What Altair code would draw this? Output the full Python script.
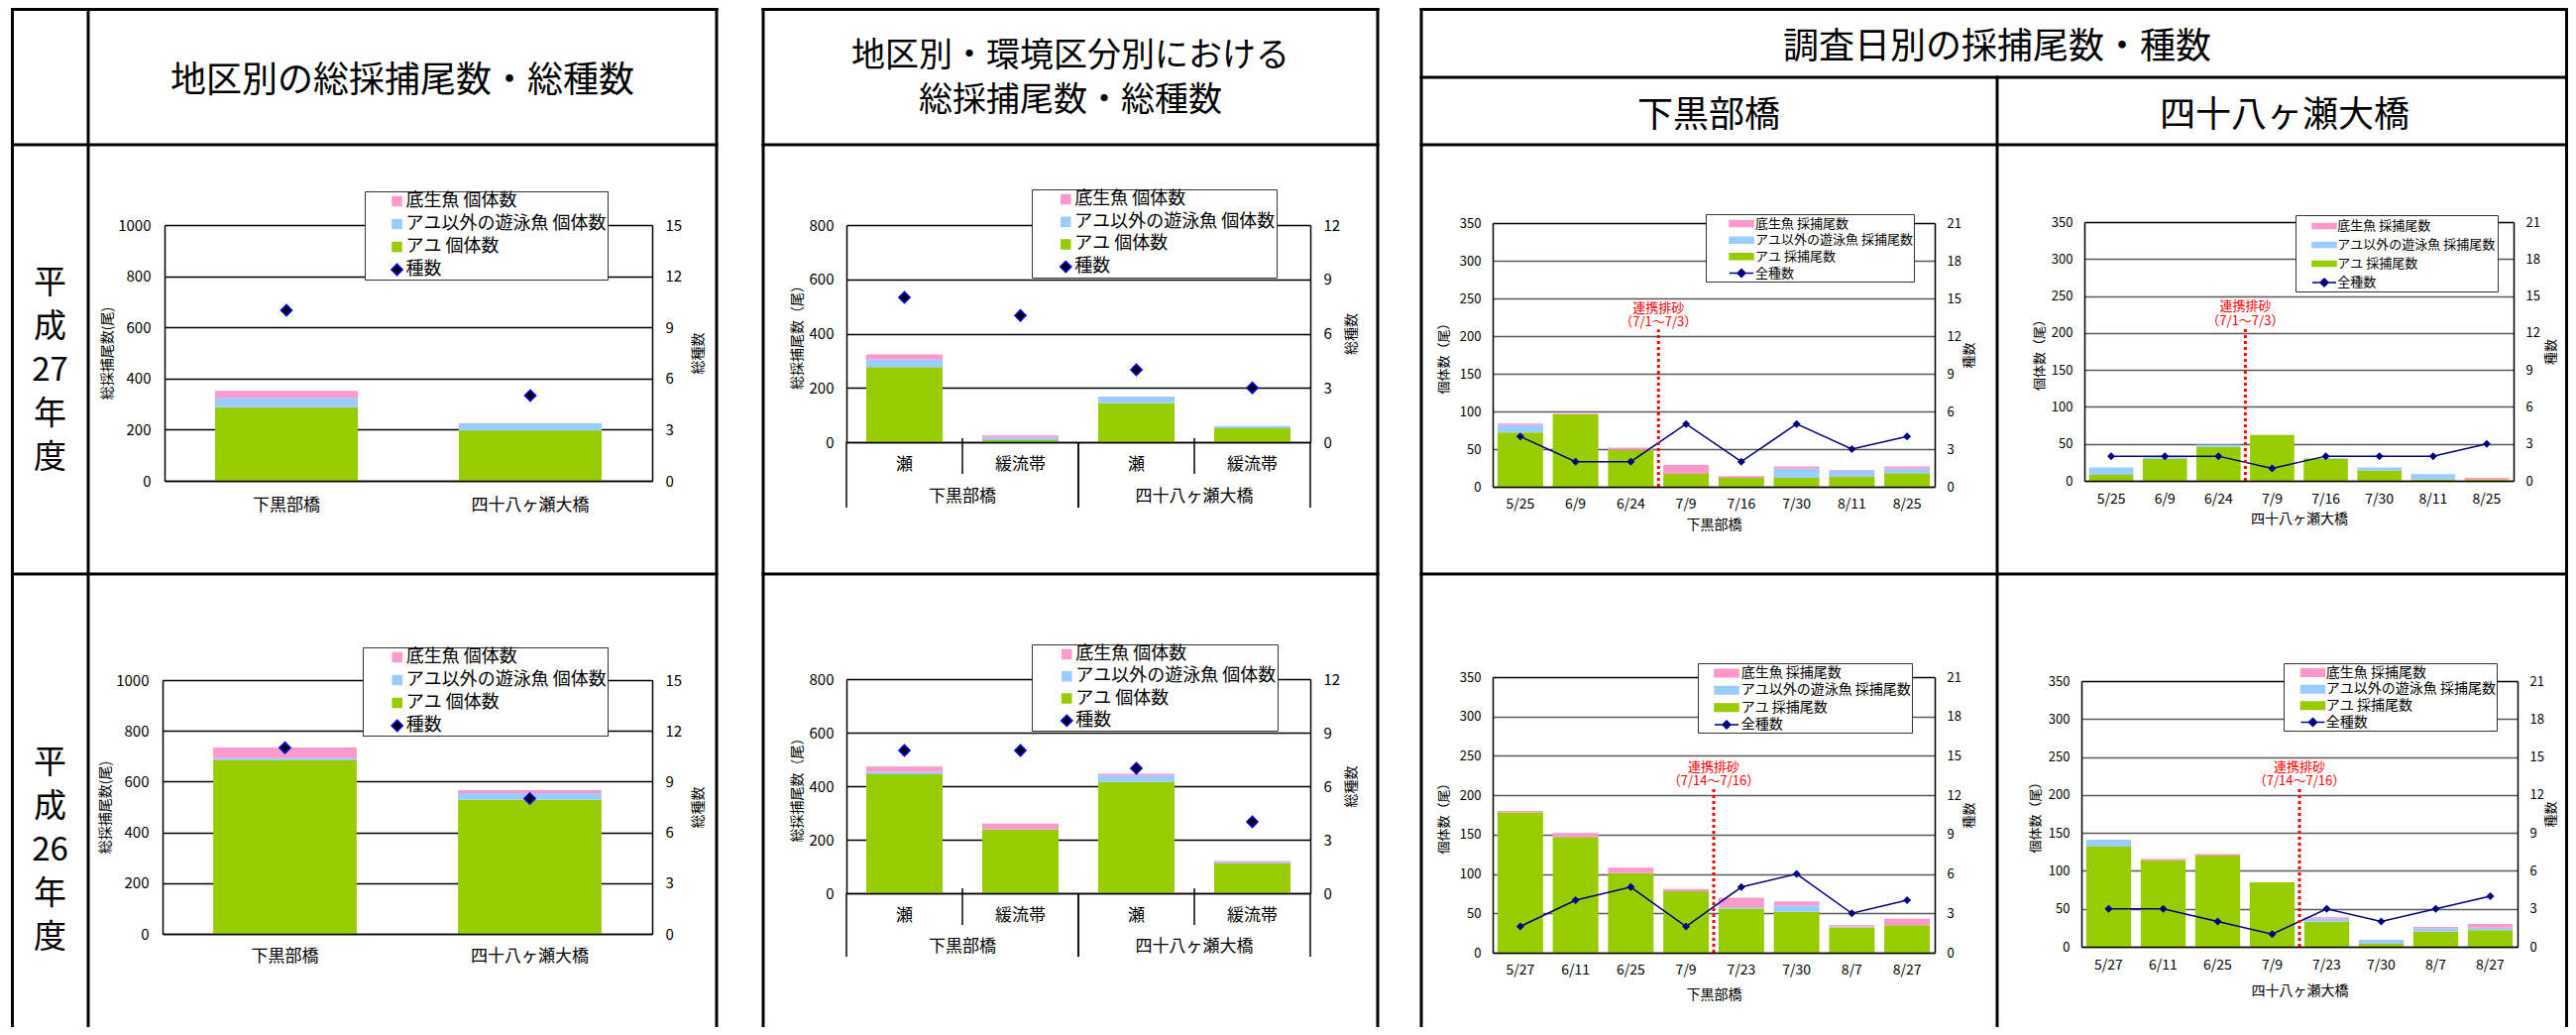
import altair as alt
import pandas as pd

# ---------------- data ----------------
SITES = ["下黒部橋", "四十八ヶ瀬大橋"]
HABITATS = ["瀬", "緩流帯"]
SER_AB = ["底生魚 個体数", "アユ以外の遊泳魚 個体数", "アユ 個体数", "種数"]
SER_C = ["底生魚 採捕尾数", "アユ以外の遊泳魚 採捕尾数", "アユ 採捕尾数", "全種数"]

# 地区別 (H27 / H26)
h27_site_ayu = [288, 197]
h27_site_other = [37, 28]
h27_site_benthic = [27, 0]
h27_site_species = [10, 5]
h26_site_ayu = [684, 528]
h26_site_other = [8, 27]
h26_site_benthic = [42, 11]
h26_site_species = [11, 8]

# 地区別・環境区分別 (下黒部橋 瀬, 下黒部橋 緩流帯, 四十八ヶ瀬大橋 瀬, 四十八ヶ瀬大橋 緩流帯)
h27_hab_ayu = [277, 7, 143, 51]
h27_hab_other = [27, 10, 25, 8]
h27_hab_benthic = [19, 8, 0, 0]
h27_hab_species = [8, 7, 4, 3]
h26_hab_ayu = [444, 237, 416, 111]
h26_hab_other = [10, 1, 24, 5]
h26_hab_benthic = [19, 22, 6, 4]
h26_hab_species = [8, 8, 7, 4]

# 調査日別
h27_dates = ["5/25", "6/9", "6/24", "7/9", "7/16", "7/30", "8/11", "8/25"]
h27_shimo_ayu = [72, 96, 49, 17, 12, 12, 13, 18]
h27_shimo_other = [10, 0, 0, 0, 0, 12, 8, 6]
h27_shimo_benthic = [2, 1, 3, 12, 2, 3, 1, 3]
h27_shimo_species = [4, 2, 2, 5, 2, 5, 3, 4]
h27_yoso_ayu = [8, 30, 46, 62, 30, 14, 2, 2]
h27_yoso_other = [10, 2, 3, 0, 1, 4, 7, 0]
h27_yoso_benthic = [0, 0, 0, 0, 0, 0, 0, 2]
h27_yoso_species = [2, 2, 2, 1, 2, 2, 2, 3]

h26_dates = ["5/27", "6/11", "6/25", "7/9", "7/23", "7/30", "8/7", "8/27"]
h26_shimo_ayu = [178, 147, 101, 78, 56, 52, 32, 35]
h26_shimo_other = [0, 0, 0, 0, 2, 8, 1, 0]
h26_shimo_benthic = [2, 5, 7, 3, 12, 5, 2, 8]
h26_shimo_species = [2, 4, 5, 2, 5, 6, 3, 4]
h26_yoso_ayu = [132, 114, 120, 85, 33, 4, 20, 22]
h26_yoso_other = [9, 0, 0, 0, 4, 5, 4, 3]
h26_yoso_benthic = [0, 2, 2, 0, 2, 0, 2, 5]
h26_yoso_species = [3, 3, 2, 1, 3, 2, 3, 4]

# 連携排砂
FLUSH_TITLE = "連携排砂"
h27_flush_label = "（7/1～7/3）"
h27_flush_next = "7/9"
h26_flush_label = "（7/14～7/16）"
h26_flush_next = "7/23"

# ---------------- layout / style ----------------
W, H = 2583, 1028
FONT = "Noto Sans CJK JP"
GREEN, BLUE, PINK, NAVY = "#99CC00", "#99CCFF", "#FF99CC", "#000080"
HAB_KEYS = [s + "|" + h for s in SITES for h in HABITATS]


def bar_frame(cats, ayu, other, benthic, names):
    rows = []
    for i, c in enumerate(cats):
        rows.append(dict(cat=c, series=names[2], value=ayu[i], ord=0))
        rows.append(dict(cat=c, series=names[1], value=other[i], ord=1))
        rows.append(dict(cat=c, series=names[0], value=benthic[i], ord=2))
    return pd.DataFrame(rows)


def species_frame(cats, species, name):
    return pd.DataFrame({"cat": cats, "series": [name] * len(cats), "sp": species})


def make_panel(cats, ayu, other, benthic, species, names, g, kind):
    x0, x1, yb, yt = g["x0"], g["x1"], g["yb"], g["yt"]
    pi = g["pi"]
    is_date = kind == "date"
    xscale = alt.Scale(domain=cats, range=[x0, x1], paddingInner=pi, paddingOuter=pi / 2)
    xa = dict(orient="bottom", offset=yb - H, domainColor="black", domainWidth=1.5,
              ticks=False, tickSize=0, labelAngle=0, labelOverlap=False,
              labelFontSize=g["xfs"], labelPadding=g["xlp"], labelColor="black",
              grid=False, zindex=1)
    if kind == "hab":
        xa["labelExpr"] = "split(datum.label, '|')[1]"
    if is_date:
        xa.update(titleX=(x0 + x1) / 2, titleY=g["xty"], titleFontSize=14,
                  titleFontWeight="normal", titleColor="black",
                  titleBaseline="middle", titleAlign="center")
        x_enc = alt.X("cat:N", scale=xscale, axis=alt.Axis(**xa), title=g["xtitle"])
    else:
        x_enc = alt.X("cat:N", scale=xscale, axis=alt.Axis(**xa), title=None)

    if is_date:
        gcol = {"condition": {"test": "datum.value >= %d" % g["ymax"], "value": "black"},
                "value": "#595959"}
    else:
        gcol = "black"
    yl_axis = alt.Axis(orient="left", offset=-x0, values=list(range(0, g["ymax"] + 1, g["ystep"])),
                       format="d", grid=True, gridColor=gcol, gridWidth=1.3,
                       domainColor="black", domainWidth=1.5,
                       ticks=False, tickSize=0, labelFontSize=g["yfs"], labelPadding=g["ylp"],
                       labelColor="black", labelOverlap=False,
                       titleFontSize=g["tfs"], titleFontWeight="normal", titleColor="black",
                       titleAngle=270, titleX=g["ltx"], titleY=(yb + yt) / 2,
                       titleBaseline="middle", titleAlign="center")
    y_left = alt.Y("value:Q", stack="zero", title=g["ltitle"],
                   scale=alt.Scale(domain=[0, g["ymax"]], range=[yb, yt], nice=False), axis=yl_axis)
    yr_axis = alt.Axis(orient="right", offset=x1 - W, values=list(range(0, g["rmax"] + 1, g["rstep"])),
                       format="d", grid=False, domainColor="black", domainWidth=1.5,
                       ticks=False, tickSize=0,
                       labelFontSize=g["yfs"], labelPadding=g["rlp"], labelColor="black",
                       labelOverlap=False,
                       titleFontSize=g["tfs"], titleFontWeight="normal", titleColor="black",
                       titleAngle=270, titleX=g["rtx"], titleY=(yb + yt) / 2,
                       titleBaseline="middle", titleAlign="center", zindex=1)
    y_right = alt.Y("sp:Q", title=g["rtitle"],
                    scale=alt.Scale(domain=[0, g["rmax"]], range=[yb, yt], nice=False), axis=yr_axis)

    lg = g["legend"]
    legend = alt.Legend(orient="none", legendX=lg["x"], legendY=lg["y"], title=None,
                        direction="vertical", padding=lg["p"], rowPadding=lg["rp"],
                        symbolOffset=lg["so"], labelOffset=lg["lo"], labelFontSize=lg["fs"],
                        labelColor="black", labelLimit=600,
                        labelExpr="datum.label + '" + "\u2002" * lg["trail"] + "'",
                        symbolSize=lg["ss"], symbolStrokeWidth=1.5, symbolOpacity=1,
                        strokeColor="#333333", fillColor="white")
    if is_date:
        rect = "M-1.5,-%.3fH1.5V%.3fH-1.5Z" % (lg["rh"], lg["rh"])
        shapes = [rect, rect, rect, "M-1.5,0H1.5M0,-0.5L0.5,0L0,0.5L-0.5,0Z"]
        fills = [PINK, BLUE, GREEN, NAVY]
        strokes = [PINK, BLUE, GREEN, NAVY]
        psize, pstroke = lg["ss"], 0
    else:
        sq = "M-1,-1H1V1H-1Z"
        shapes = [sq, sq, sq, "M0,-1.25L1.25,0L0,1.25L-1.25,0Z"]
        fills = [PINK, BLUE, GREEN, "#000000"]
        strokes = [PINK, BLUE, GREEN, "#0000FF"]
        psize, pstroke = lg["ss"], 1.5
    cscale = alt.Scale(domain=names, range=fills)
    sscale = alt.Scale(domain=names, range=strokes)
    shscale = alt.Scale(domain=names, range=shapes)

    bars = alt.Chart(bar_frame(cats, ayu, other, benthic, names)).mark_bar().encode(
        x=x_enc, y=y_left,
        color=alt.Color("series:N", scale=cscale, legend=legend),
        order=alt.Order("ord:Q"))
    sp_df = species_frame(cats, species, names[3])
    pts = alt.Chart(sp_df).mark_point(filled=True, opacity=1, size=psize, strokeWidth=pstroke).encode(
        x=x_enc, y=y_right,
        color=alt.Color("series:N", scale=cscale, legend=legend),
        stroke=alt.Stroke("series:N", scale=sscale, legend=legend),
        shape=alt.Shape("series:N", scale=shscale, legend=legend))
    if is_date:
        line = alt.Chart(sp_df).mark_line(color=NAVY, strokeWidth=1.5).encode(x=x_enc, y=y_right)
        species_layer = alt.layer(line, pts)
    else:
        species_layer = pts
    return alt.layer(bars, species_layer).resolve_scale(y="independent")


def flush_layer(cats, g, nxt, label):
    f = g["flush"]
    n = len(cats)
    step = (g["x1"] - g["x0"]) / n
    off = -g["pi"] * step / 2
    xs = alt.Scale(domain=cats, range=[g["x0"], g["x1"]], paddingInner=g["pi"], paddingOuter=g["pi"] / 2)
    ys = alt.Scale(domain=[0, g["ymax"]], range=[g["yb"], g["yt"]], nice=False)
    df = pd.DataFrame({"cat": [nxt], "base": [0], "top": [f["top"]], "t1": [FLUSH_TITLE], "t2": [label]})
    ex = alt.X("cat:N", scale=xs, axis=None, bandPosition=0)
    rule = alt.Chart(df).mark_rule(color="#FF0000", strokeWidth=3, strokeDash=[3, 3], xOffset=off).encode(
        x=ex, y=alt.Y("base:Q", scale=ys, axis=None), y2="top:Q")
    t1 = alt.Chart(df).mark_text(color="#FF0000", fontSize=13, baseline="middle", align="center",
                                 xOffset=off, dy=f["dy1"]).encode(
        x=ex, y=alt.Y("top:Q", scale=ys, axis=None), text="t1:N")
    t2 = alt.Chart(df).mark_text(color="#FF0000", fontSize=13, baseline="middle", align="center",
                                 xOffset=off, dy=f["dy2"]).encode(
        x=ex, y=alt.Y("top:Q", scale=ys, axis=None), text="t2:N")
    return alt.layer(rule, t1, t2)


def site_axis_layer(g):
    ss = alt.Scale(domain=SITES, range=[g["x0"], g["x1"]], paddingInner=0, paddingOuter=0)
    sdf = pd.DataFrame({"site": SITES})
    lbl = alt.Chart(sdf).mark_text(fontSize=17, baseline="middle", align="center", color="black").encode(
        x=alt.X("site:N", scale=ss, axis=None, bandPosition=0.5), y=alt.value(g["l2y"]), text="site:N")
    inner = alt.Chart(sdf).mark_rule(color="black", strokeWidth=1.5).encode(
        x=alt.X("site:N", scale=ss, axis=None, bandPosition=0.5),
        y=alt.value(g["inner"][0]), y2=alt.value(g["inner"][1]))
    outer0 = alt.Chart(sdf).mark_rule(color="black", strokeWidth=1.5).encode(
        x=alt.X("site:N", scale=ss, axis=None, bandPosition=0),
        y=alt.value(g["outer"][0]), y2=alt.value(g["outer"][1]))
    outer1 = alt.Chart(sdf).mark_rule(color="black", strokeWidth=1.5).encode(
        x=alt.X("site:N", scale=ss, axis=None, bandPosition=1),
        y=alt.value(g["outer"][0]), y2=alt.value(g["outer"][1]))
    return alt.layer(lbl, inner, outer0, outer1)


AB_COMMON = dict(yfs=15, rlp=13, tfs=14, xfs=17, rstep=3, ystep=200)
GA1 = dict(AB_COMMON, x0=158, x1=650, yb=477, yt=219, ymax=1000, rmax=15, pi=0.414, xlp=16, ylp=14,
           ltx=-58, rtx=46, ltitle="総採捕尾数(尾)", rtitle="総種数",
           legend=dict(x=360, y=185, p=1, rp=5, so=22.5, lo=0, fs=18, trail=4, ss=81))
GA2 = dict(AB_COMMON, x0=156, x1=650, yb=934, yt=678, ymax=1000, rmax=15, pi=0.414, xlp=14, ylp=14,
           ltx=-58, rtx=46, ltitle="総採捕尾数(尾)", rtitle="総種数",
           legend=dict(x=358, y=645, p=1, rp=5, so=24.7, lo=0, fs=18, trail=4, ss=81))
GB1 = dict(AB_COMMON, x0=846, x1=1314, yb=438, yt=219, ymax=800, rmax=12, pi=0.342, xlp=14, ylp=13,
           ltx=-50, rtx=41, ltitle="総採捕尾数（尾）", rtitle="総種数",
           legend=dict(x=1033, y=183, p=1, rp=4.7, so=24.3, lo=0, fs=18, trail=3, ss=81),
           l2y=493.4, inner=(434, 470), outer=(438, 504))
GB2 = dict(AB_COMMON, x0=846, x1=1314, yb=893, yt=677, ymax=800, rmax=12, pi=0.342, xlp=14, ylp=13,
           ltx=-50, rtx=41, ltitle="総採捕尾数（尾）", rtitle="総種数",
           legend=dict(x=1033, y=642, p=1, rp=4.3, so=25.3, lo=0, fs=18, trail=3, ss=81),
           l2y=947.4, inner=(888, 925), outer=(893, 957))
C_COMMON = dict(yfs=13, ylp=12, rlp=12, tfs=13, xfs=14, ymax=350, ystep=50, rmax=21, rstep=3,
                pi=0.175, ltitle="個体数（尾）", rtitle="種数")
GC1 = dict(C_COMMON, x0=1498, x1=1944, yb=483, yt=217, xlp=10, ltx=-50, rtx=34,
           xtitle="下黒部橋", xty=38,
           legend=dict(x=1713, y=208, p=0.5, rp=0.67, so=26.5, lo=5, fs=13, trail=3, ss=256, rh=0.375),
           flush=dict(top=209, dy1=-21, dy2=-7))
GC2 = dict(C_COMMON, x0=2095, x1=2528, yb=477, yt=216, xlp=11, ltx=-46, rtx=37,
           xtitle="四十八ヶ瀬大橋", xty=38,
           legend=dict(x=2308, y=209, p=2, rp=3, so=18, lo=4.3, fs=13, trail=1, ss=256, rh=0.31),
           flush=dict(top=207, dy1=-22, dy2=-7))
GC3 = dict(C_COMMON, x0=1498, x1=1944, yb=953, yt=675, xlp=10, ltx=-50, rtx=34,
           xtitle="下黒部橋", xty=42,
           legend=dict(x=1705, y=661, p=1, rp=1.33, so=19, lo=5.7, fs=14, trail=3, ss=256, rh=0.47),
           flush=dict(top=209, dy1=-21, dy2=-7))
GC4 = dict(C_COMMON, x0=2092, x1=2532, yb=947, yt=679, xlp=11, ltx=-46.5, rtx=33,
           xtitle="四十八ヶ瀬大橋", xty=44,
           legend=dict(x=2296, y=661, p=0.5, rp=0.67, so=20, lo=4.3, fs=14, trail=3, ss=256, rh=0.47),
           flush=dict(top=208, dy1=-22, dy2=-8))

# ---------------- table frame & headings ----------------
dummy = pd.DataFrame({"d": [0]})


def hline(xa, xb, y):
    return alt.Chart(dummy).mark_rule(color="black", strokeWidth=3, strokeCap="square").encode(
        x=alt.value(xa), x2=alt.value(xb), y=alt.value(y))


def vline(x, ya, yb):
    return alt.Chart(dummy).mark_rule(color="black", strokeWidth=3, strokeCap="square").encode(
        x=alt.value(x), y=alt.value(ya), y2=alt.value(yb))


def label(txt, x, y, size, lh=None):
    kw = dict(fontSize=size, baseline="middle", align="center", color="black")
    if lh:
        kw["lineHeight"] = lh
    return alt.Chart(dummy).mark_text(**kw).encode(x=alt.value(x), y=alt.value(y), text=alt.value(txt))


XA0, XA1, XA2 = 4.5, 81, 715
XB0, XB1 = 762, 1382
XC0, XCM, XC1 = 1426, 2007, 2581.5
Y0, YC, YH, YM = 1.5, 70, 138, 571

decor = []
for yy in (Y0, YH, YM):
    decor += [hline(XA0, XA2, yy), hline(XB0, XB1, yy), hline(XC0, XC1, yy)]
decor.append(hline(XC0, XC1, YC))
for xx in (XA0, XA1, XA2, XB0, XB1, XC0, XC1):
    decor.append(vline(xx, Y0, H))
decor.append(vline(XCM, YC, H))

decor += [
    label("地区別の総採捕尾数・総種数", 398, 74, 36),
    label("地区別・環境区分別における", 1072, 48.5, 34),
    label("総採捕尾数・総種数", 1072, 94, 34),
    label("調査日別の採捕尾数・種数", 2007, 40, 36),
    label("下黒部橋", 1716, 109, 36),
    label("四十八ヶ瀬大橋", 2297, 109, 36),
    label(["平", "成", "27", "年", "度"], 42.5, 278, 33, 44),
    label(["平", "成", "26", "年", "度"], 42.5, 762, 33, 44),
]

panels = [
    make_panel(SITES, h27_site_ayu, h27_site_other, h27_site_benthic, h27_site_species, SER_AB, GA1, "site"),
    make_panel(SITES, h26_site_ayu, h26_site_other, h26_site_benthic, h26_site_species, SER_AB, GA2, "site"),
    make_panel(HAB_KEYS, h27_hab_ayu, h27_hab_other, h27_hab_benthic, h27_hab_species, SER_AB, GB1, "hab"),
    site_axis_layer(GB1),
    make_panel(HAB_KEYS, h26_hab_ayu, h26_hab_other, h26_hab_benthic, h26_hab_species, SER_AB, GB2, "hab"),
    site_axis_layer(GB2),
    make_panel(h27_dates, h27_shimo_ayu, h27_shimo_other, h27_shimo_benthic, h27_shimo_species, SER_C, GC1, "date"),
    flush_layer(h27_dates, GC1, h27_flush_next, h27_flush_label),
    make_panel(h27_dates, h27_yoso_ayu, h27_yoso_other, h27_yoso_benthic, h27_yoso_species, SER_C, GC2, "date"),
    flush_layer(h27_dates, GC2, h27_flush_next, h27_flush_label),
    make_panel(h26_dates, h26_shimo_ayu, h26_shimo_other, h26_shimo_benthic, h26_shimo_species, SER_C, GC3, "date"),
    flush_layer(h26_dates, GC3, h26_flush_next, h26_flush_label),
    make_panel(h26_dates, h26_yoso_ayu, h26_yoso_other, h26_yoso_benthic, h26_yoso_species, SER_C, GC4, "date"),
    flush_layer(h26_dates, GC4, h26_flush_next, h26_flush_label),
]

chart = (
    alt.layer(*decor, *panels)
    .properties(width=W, height=H, padding=0, background="white",
                autosize=alt.AutoSizeParams(type="none"))
    .resolve_scale(x="independent", y="independent", color="independent",
                   shape="independent", stroke="independent")
    .resolve_axis(x="independent", y="independent")
    .resolve_legend(color="independent", shape="independent", stroke="independent")
    .configure(font=FONT)
    .configure_view(stroke="transparent")
)

chart.save("out.html", embed_options={"renderer": "svg", "actions": False})
